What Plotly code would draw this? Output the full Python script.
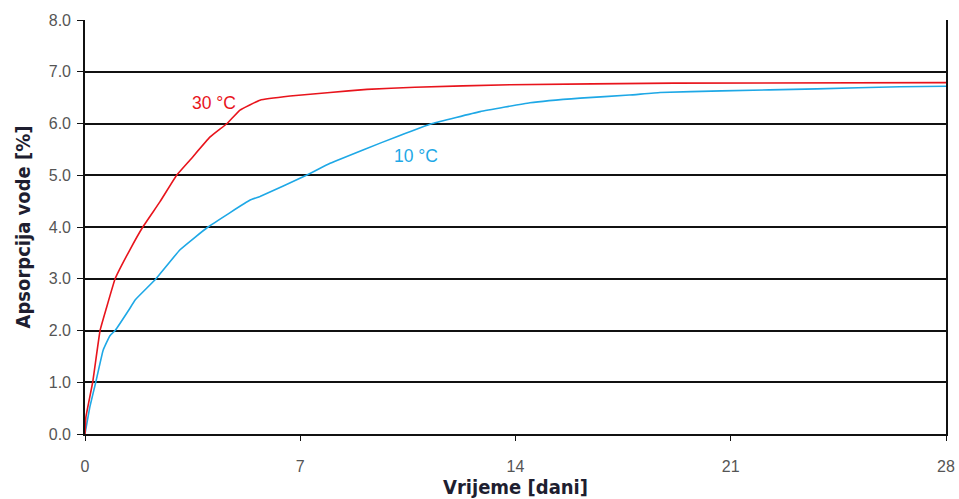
import plotly.graph_objects as go

# Time [days] and water absorption [%]
t_30 = [0, 0.03, 0.25, 0.49, 0.68, 0.98, 1.46, 1.88, 2.44, 2.98, 3.41, 4.07, 4.62, 5.04, 5.69, 6.67, 7.97, 9.17, 10.73, 13.82, 19.15, 28]
v_30 = [0, 0.33, 1.0, 2.0, 2.4, 3.0, 3.56, 4.0, 4.49, 5.0, 5.29, 5.74, 6.0, 6.26, 6.45, 6.53, 6.60, 6.66, 6.70, 6.75, 6.78, 6.79]

t_10 = [0, 0.16, 0.35, 0.59, 0.81, 0.98, 1.43, 1.63, 2.31, 3.09, 4.0, 5.37, 5.69, 7.2, 7.97, 9.04, 10.2, 11.3, 12.85, 14.47, 16.1, 17.7, 18.7, 20.7, 23.8, 26.5, 28]
v_10 = [0, 0.53, 1.0, 1.62, 1.9, 2.0, 2.4, 2.59, 3.0, 3.56, 4.0, 4.52, 4.59, 5.0, 5.23, 5.49, 5.76, 6.0, 6.23, 6.40, 6.49, 6.55, 6.60, 6.63, 6.67, 6.71, 6.72]

x_ticks = [0, 7, 14, 21, 28]
y_ticks = [0, 1, 2, 3, 4, 5, 6, 7, 8]
y_tick_labels = ["0.0", "1.0", "2.0", "3.0", "4.0", "5.0", "6.0", "7.0", "8.0"]

RED = "#e8141c"
BLUE = "#1ea8e6"
TITLE_FONT = "DejaVu Sans Condensed, DejaVu Sans, sans-serif"
TICK_FONT = "Liberation Sans, Arial, sans-serif"

fig = go.Figure()
fig.add_trace(go.Scatter(x=t_10, y=v_10, mode="lines", line=dict(color=BLUE, width=1.6, shape="spline", smoothing=0.3),
                         name="10 °C", showlegend=False))
fig.add_trace(go.Scatter(x=t_30, y=v_30, mode="lines", line=dict(color=RED, width=1.6, shape="spline", smoothing=0.3),
                         name="30 °C", showlegend=False))

fig.add_annotation(x=4.2, y=6.4, text="30 °C", showarrow=False, xanchor="center", yanchor="middle",
                   font=dict(family=TICK_FONT, size=17.5, color=RED))
fig.add_annotation(x=10.75, y=5.37, text="10 °C", showarrow=False, xanchor="center", yanchor="middle",
                   font=dict(family=TICK_FONT, size=17.5, color=BLUE))

fig.update_layout(
    width=959, height=499,
    margin=dict(l=85, r=13, t=20, b=65),
    paper_bgcolor="white", plot_bgcolor="white",
    font=dict(family=TICK_FONT, size=16, color="#555555"),
    xaxis=dict(
        range=[0, 28], tickvals=x_ticks, ticktext=[str(v) for v in x_ticks],
        showgrid=False, zeroline=False, automargin=False,
        showline=True, linecolor="#111111", linewidth=1.6,
        ticks="outside", ticklen=5, tickcolor="#111111", tickwidth=1.3,
        ticklabelstandoff=12,
        tickfont=dict(family=TICK_FONT, size=16, color="#555555"),
        title=dict(text="<b>Vrijeme [dani]</b>", standoff=2,
                   font=dict(family=TITLE_FONT, size=20, color="#1e1e30")),
    ),
    yaxis=dict(
        range=[0, 8], tickvals=y_ticks, ticktext=y_tick_labels,
        showgrid=True, gridcolor="#111111", gridwidth=1.6, zeroline=False, automargin=False,
        showline=True, linecolor="#111111", linewidth=1.6, mirror=True,
        ticks="outside", ticklen=6, tickcolor="#111111", tickwidth=1.3,
        ticklabelstandoff=3,
        tickfont=dict(family=TICK_FONT, size=16, color="#555555"),
        title=dict(text="<b>Apsorpcija vode [%]</b>", standoff=13,
                   font=dict(family=TITLE_FONT, size=20, color="#1e1e30")),
    ),
)

fig.write_html("out.html", config={"displayModeBar": False},
               post_script="document.body.style.margin='0';document.body.style.overflow='hidden';")
